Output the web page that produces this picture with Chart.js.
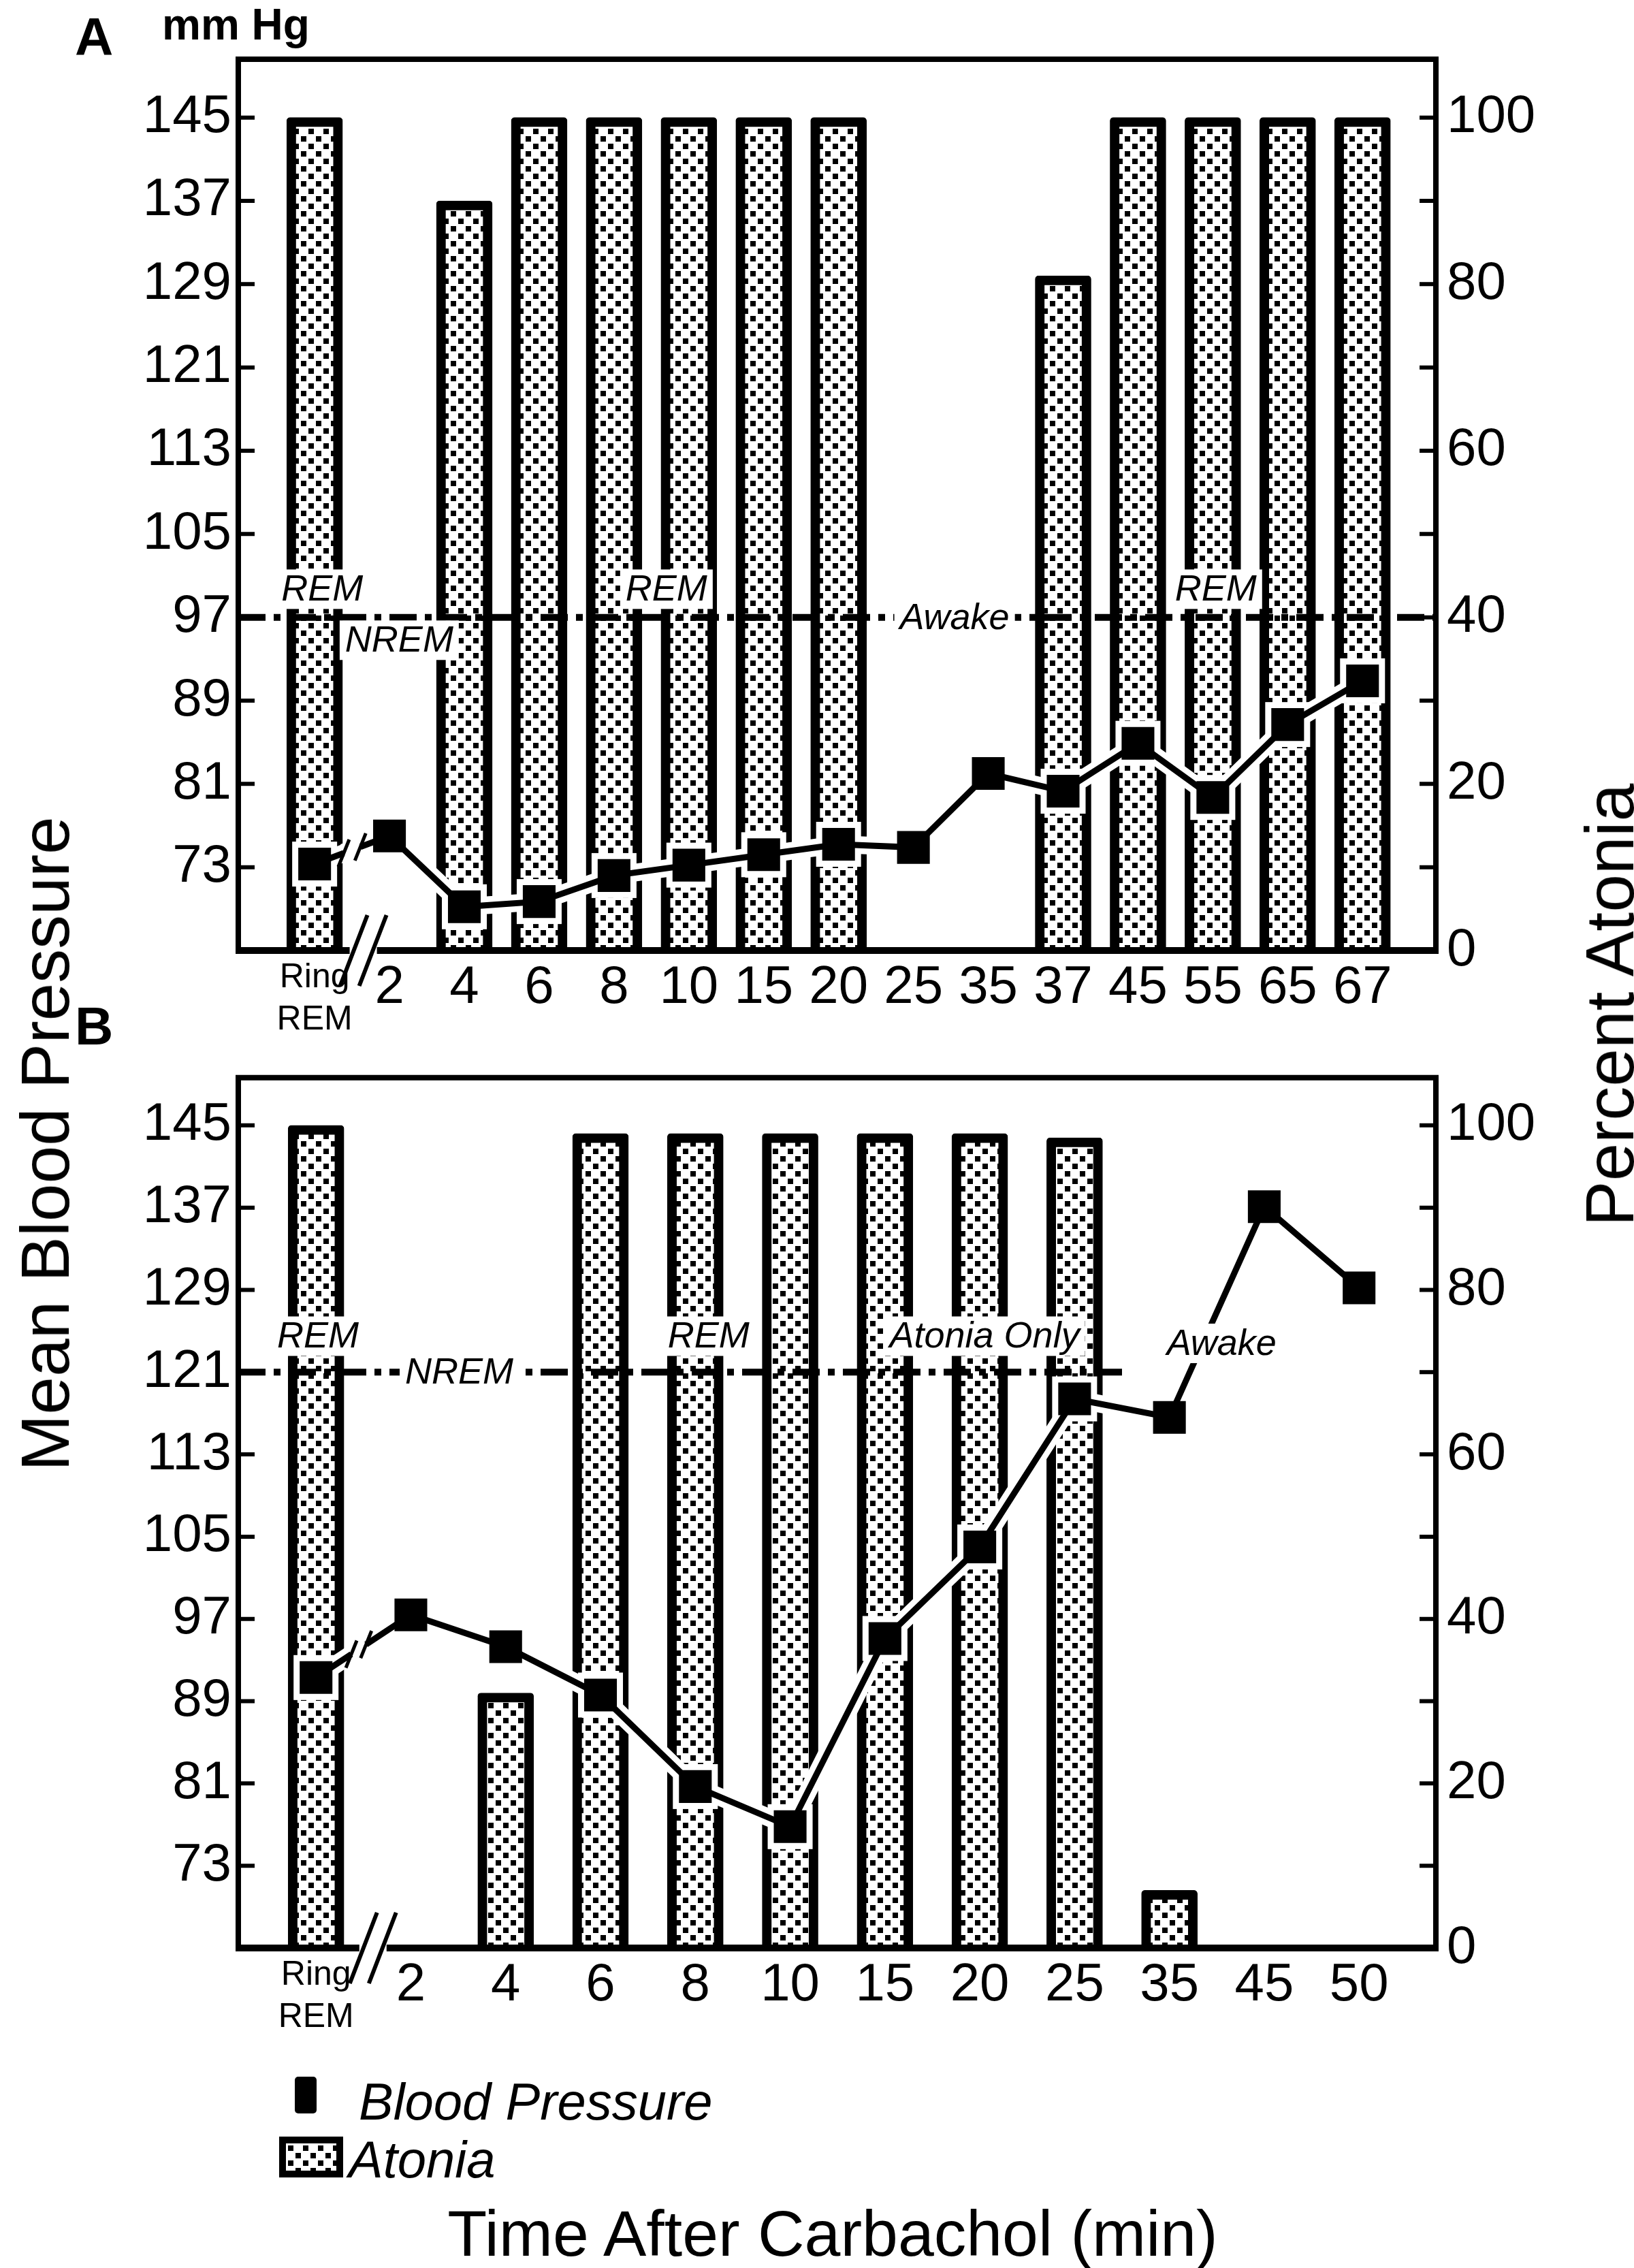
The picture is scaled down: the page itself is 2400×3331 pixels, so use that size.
<!DOCTYPE html>
<html>
<head>
<meta charset="utf-8">
<title>Blood pressure and atonia after carbachol</title>
<script src="https://cdn.jsdelivr.net/npm/chart.js@4.4.1/dist/chart.umd.min.js"></script>
<style>
    html, body { margin: 0; padding: 0; background: #fff; }
    #page { position: relative; width: 2400px; height: 3331px; overflow: hidden;
            font-family: "Liberation Sans", Arial, sans-serif; color: #000; }
    .abs { position: absolute; line-height: 1; white-space: nowrap; }
    .panel-letter { font-weight: bold; font-size: 78px; }
    .rot { transform: translate(-50%, -50%) rotate(-90deg); font-size: 100px; }
    .legend-text { font-style: italic; font-size: 76px; }
</style>
</head>
<body>
<div id="page">
    <canvas id="chartA" class="abs" width="2400" height="1520" style="left:0;top:0;width:2400px;height:1520px"></canvas>
    <canvas id="chartB" class="abs" width="2400" height="1480" style="left:0;top:1520px;width:2400px;height:1480px"></canvas>

    <div class="abs panel-letter" style="left:110px;top:15px">A</div>
    <div class="abs panel-letter" style="left:110px;top:1468px">B</div>
    <div class="abs" style="left:238px;top:4px;font-weight:bold;font-size:64px">mm Hg</div>

    <div class="abs rot" style="left:66px;top:1680px">Mean Blood Pressure</div>
    <div class="abs rot" style="left:2364px;top:1476px">Percent Atonia</div>

    <div class="abs" style="left:433px;top:3050px;width:32px;height:54px;background:#000;border-radius:5px"></div>
    <div class="abs legend-text" style="left:527px;top:3049px">Blood Pressure</div>
    <canvas id="swatch" class="abs" width="94" height="60" style="left:410px;top:3138px"></canvas>
    <div class="abs legend-text" style="left:512px;top:3134px">Atonia</div>

    <div class="abs" style="left:1223px;top:3233px;font-size:95px;transform:translateX(-50%)">Time After Carbachol (min)</div>
</div>

<script>
    'use strict';

    // Panel A
    var categoriesA = ['Ring REM', '2', '4', '6', '8', '10', '15', '20', '25', '35', '37', '45', '55', '65', '67'];
    var atoniaA = [100, null, 90, 100, 100, 100, 100, 100, null, null, 81, 100, 100, 100, 100];
    var pressureA = [73.3, 76.0, 69.2, 69.7, 72.2, 73.2, 74.2, 75.2, 74.9, 82.0, 80.3, 84.9, 79.7, 86.7, 90.9];

    // Panel B
    var categoriesB = ['Ring REM', '2', '4', '6', '8', '10', '15', '20', '25', '35', '45', '50'];
    var atoniaB = [100, null, 31, 99, 99, 99, 99, 99, 98.5, 7, null, null];
    var pressureB = [91.3, 97.4, 94.3, 89.6, 80.7, 76.8, 95.1, 104.0, 118.4, 116.6, 137.1, 129.2];

    // Axis ticks
    var mmHgTicks = [73, 81, 89, 97, 105, 113, 121, 129, 137, 145];
    var percentTicks = [0, 10, 20, 30, 40, 50, 60, 70, 80, 90, 100];

    var plainFamily = "'Liberation Sans', Arial, sans-serif";
    var tickFont = { family: plainFamily, size: 78, lineHeight: 1.2 };
    var ringFont = { family: plainFamily, size: 50, lineHeight: 1.24 };
    var rightFont = { family: plainFamily, size: 78 };

    // Stippled fill used for the atonia bars
    function stipple(ctx) {
        var c = document.createElement('canvas');
        c.width = 22;
        c.height = 22;
        var g = c.getContext('2d');
        g.fillStyle = '#fff';
        g.fillRect(0, 0, 22, 22);
        g.fillStyle = '#000';
        g.fillRect(2, 2, 8, 8);
        g.fillRect(13, 13, 8, 8);
        return ctx.createPattern(c, 'repeat');
    }

    function slash(ctx, x, y, dx, dy) {
        ctx.moveTo(x - dx, y + dy);
        ctx.lineTo(x + dx, y - dy);
    }

    // Frame, inward ticks, axis breaks and the sleep-state annotations
    var panelDecor = {
        id: 'panelDecor',
        beforeDatasetDraw: function(chart, args) {
            if (args.meta.type !== 'line') return;
            var ctx = chart.ctx, pts = args.meta.data;
            ctx.save();
            ctx.strokeStyle = '#fff';
            ctx.fillStyle = '#fff';
            ctx.lineWidth = 26;
            ctx.lineJoin = 'round';
            ctx.beginPath();
            pts.forEach(function(p, i) { if (i) ctx.lineTo(p.x, p.y); else ctx.moveTo(p.x, p.y); });
            ctx.stroke();
            pts.forEach(function(p) { ctx.fillRect(p.x - 33, p.y - 33, 66, 66); });
            ctx.restore();
        },
        afterDatasetsDraw: function(chart, args, o) {
            var ctx = chart.ctx, xs = chart.scales.x, ys = chart.scales.y;
            var pts = chart.getDatasetMeta(0).data;

            // gap in the first segment of the pressure line
            var a = pts[0], b = pts[1];
            var cx = a.x + (b.x - a.x) * o.lineBreak, cy = a.y + (b.y - a.y) * o.lineBreak;
            var ang = Math.atan2(b.y - a.y, b.x - a.x);
            ctx.save();
            ctx.translate(cx, cy);
            ctx.rotate(ang);
            ctx.fillStyle = '#fff';
            ctx.fillRect(-13, -14, 26, 28);
            ctx.restore();
            ctx.save();
            ctx.strokeStyle = '#000';
            ctx.lineWidth = 5;
            ctx.beginPath();
            [-13, 13].forEach(function(d) {
                slash(ctx, cx + d * Math.cos(ang), cy + d * Math.sin(ang), 8, 20);
            });
            ctx.stroke();
            ctx.restore();

            // dashed sleep-state line
            var ly = ys.getPixelForValue(o.stateY);
            ctx.save();
            ctx.strokeStyle = '#000';
            ctx.lineWidth = 10;
            ctx.setLineDash([40, 12, 10, 12]);
            ctx.beginPath();
            ctx.moveTo(xs.getPixelForValue(o.stateFrom), ly);
            ctx.lineTo(xs.getPixelForValue(o.stateTo), ly);
            ctx.stroke();
            ctx.restore();

            // state labels on white boxes
            ctx.save();
            ctx.font = 'italic 54px ' + plainFamily;
            ctx.textAlign = 'center';
            ctx.textBaseline = 'middle';
            o.labels.forEach(function(l) {
                var px = xs.getPixelForValue(l.x), py = ys.getPixelForValue(l.y);
                var w = ctx.measureText(l.text).width;
                ctx.fillStyle = '#fff';
                ctx.fillRect(px - w / 2 - 8, py - 29, w + 16, 58);
                ctx.fillStyle = '#000';
                ctx.fillText(l.text, px, py + 2);
            });
            ctx.restore();
        },
        afterDraw: function(chart, args, o) {
            var ctx = chart.ctx, area = chart.chartArea;
            var xs = chart.scales.x, ys = chart.scales.y, ys1 = chart.scales.y1;
            var bx = xs.getPixelForValue(o.axisBreak);
            ctx.save();
            ctx.strokeStyle = '#000';

            // frame
            ctx.lineWidth = 8;
            ctx.beginPath();
            ctx.moveTo(area.left, area.bottom);
            ctx.lineTo(area.left, area.top);
            ctx.lineTo(area.right, area.top);
            ctx.lineTo(area.right, area.bottom);
            ctx.stroke();

            // x axis with break
            ctx.lineWidth = 10;
            ctx.beginPath();
            ctx.moveTo(area.left - 4, area.bottom);
            ctx.lineTo(bx - 20, area.bottom);
            ctx.moveTo(bx + 20, area.bottom);
            ctx.lineTo(area.right + 4, area.bottom);
            ctx.stroke();
            ctx.lineWidth = 6;
            ctx.beginPath();
            [-14, 14].forEach(function(d) { slash(ctx, bx + d, area.bottom, 20, 52); });
            ctx.stroke();

            // inward tick marks
            ctx.lineWidth = 6;
            ctx.beginPath();
            ys.ticks.forEach(function(t) {
                var py = ys.getPixelForValue(t.value);
                ctx.moveTo(area.left, py);
                ctx.lineTo(area.left + 24, py);
            });
            ys1.ticks.forEach(function(t) {
                var py = ys1.getPixelForValue(t.value);
                ctx.moveTo(area.right - 24, py);
                ctx.lineTo(area.right, py);
            });
            ctx.stroke();
            ctx.restore();
        }
    };

    function makePanel(canvasId, categories, atonia, pressure, geo) {
        var ctx = document.getElementById(canvasId).getContext('2d');
        return new Chart(ctx, {
            type: 'bar',
            data: {
                datasets: [
                    {
                        type: 'line',
                        label: 'Blood Pressure',
                        yAxisID: 'y',
                        order: 1,
                        data: pressure.map(function(v, i) { return { x: i, y: v }; }),
                        borderColor: '#000',
                        borderWidth: 9,
                        tension: 0,
                        pointStyle: 'rect',
                        pointRadius: 34,
                        pointBackgroundColor: '#000',
                        pointBorderWidth: 0
                    },
                    {
                        type: 'bar',
                        label: 'Atonia',
                        yAxisID: 'y1',
                        order: 2,
                        data: atonia.map(function(v, i) { return { x: i, y: v }; }),
                        backgroundColor: stipple(ctx),
                        borderColor: '#000',
                        borderWidth: 14,
                        borderSkipped: 'start',
                        borderRadius: 5,
                        barThickness: 82
                    }
                ]
            },
            options: {
                responsive: false,
                animation: false,
                events: [],
                layout: { padding: { top: geo.top, left: 0, right: 0, bottom: 0 } },
                plugins: {
                    legend: { display: false },
                    tooltip: { enabled: false },
                    panelDecor: geo.decor
                },
                scales: {
                    x: {
                        type: 'linear',
                        min: geo.xMin,
                        max: geo.xMax,
                        offset: false,
                        afterBuildTicks: function(s) { s.ticks = categories.map(function(c, i) { return { value: i }; }); },
                        afterFit: function(s) { s.height = geo.xAxisHeight; },
                        grid: { display: false, drawTicks: false, offset: false },
                        border: { display: false },
                        ticks: {
                            autoSkip: false,
                            maxRotation: 0,
                            minRotation: 0,
                            padding: 9,
                            color: '#000',
                            font: function(c) { return c.index === 0 ? ringFont : tickFont; },
                            callback: function(v) {
                                var label = categories[v];
                                return label.indexOf(' ') >= 0 ? label.split(' ') : label;
                            }
                        }
                    },
                    y: {
                        type: 'linear',
                        position: 'left',
                        min: 65,
                        max: 65 + 0.8 * geo.pctMax,
                        afterBuildTicks: function(s) { s.ticks = mmHgTicks.map(function(v) { return { value: v }; }); },
                        afterFit: function(s) { s.width = 350; },
                        grid: { display: false, drawTicks: false },
                        border: { display: false },
                        ticks: { padding: 10, color: '#000', font: tickFont }
                    },
                    y1: {
                        type: 'linear',
                        position: 'right',
                        min: 0,
                        max: geo.pctMax,
                        afterBuildTicks: function(s) { s.ticks = percentTicks.map(function(v) { return { value: v }; }); },
                        afterFit: function(s) { s.width = 291; },
                        grid: { display: false, drawTicks: false },
                        border: { display: false },
                        ticks: {
                            padding: 16,
                            color: '#000',
                            font: rightFont,
                            callback: function(v) { return v % 20 === 0 ? v : ''; }
                        }
                    }
                }
            },
            plugins: [panelDecor]
        });
    }

    makePanel('chartA', categoriesA, atoniaA, pressureA, {
        top: 87, xAxisHeight: 124, xMin: -1.02, xMax: 14.98, pctMax: 107,
        decor: {
            lineBreak: 0.5, axisBreak: 0.65,
            stateY: 97, stateFrom: -1.02, stateTo: 14.98,
            labels: [
                { text: 'REM', x: 0.1, y: 99.7 },
                { text: 'NREM', x: 1.13, y: 94.8 },
                { text: 'REM', x: 4.7, y: 99.7 },
                { text: 'Awake', x: 8.55, y: 97 },
                { text: 'REM', x: 12.04, y: 99.7 }
            ]
        }
    });

    makePanel('chartB', categoriesB, atoniaB, pressureB, {
        top: 26, xAxisHeight: 139, xMin: -0.82, xMax: 11.81, pctMax: 105.8,
        decor: {
            lineBreak: 0.45, axisBreak: 0.6,
            stateY: 121, stateFrom: -0.82, stateTo: 8.53,
            labels: [
                { text: 'REM', x: 0.02, y: 124.5 },
                { text: 'NREM', x: 1.51, y: 121 },
                { text: 'REM', x: 4.14, y: 124.5 },
                { text: 'Atonia Only', x: 7.05, y: 124.5 },
                { text: 'Awake', x: 9.55, y: 123.8 }
            ]
        }
    });

    // Legend swatch for atonia
    (function() {
        var sw = document.getElementById('swatch').getContext('2d');
        sw.fillStyle = stipple(sw);
        sw.fillRect(0, 0, 94, 60);
        sw.strokeStyle = '#000';
        sw.lineWidth = 10;
        sw.strokeRect(5, 5, 84, 50);
    })();
</script>
</body>
</html>
